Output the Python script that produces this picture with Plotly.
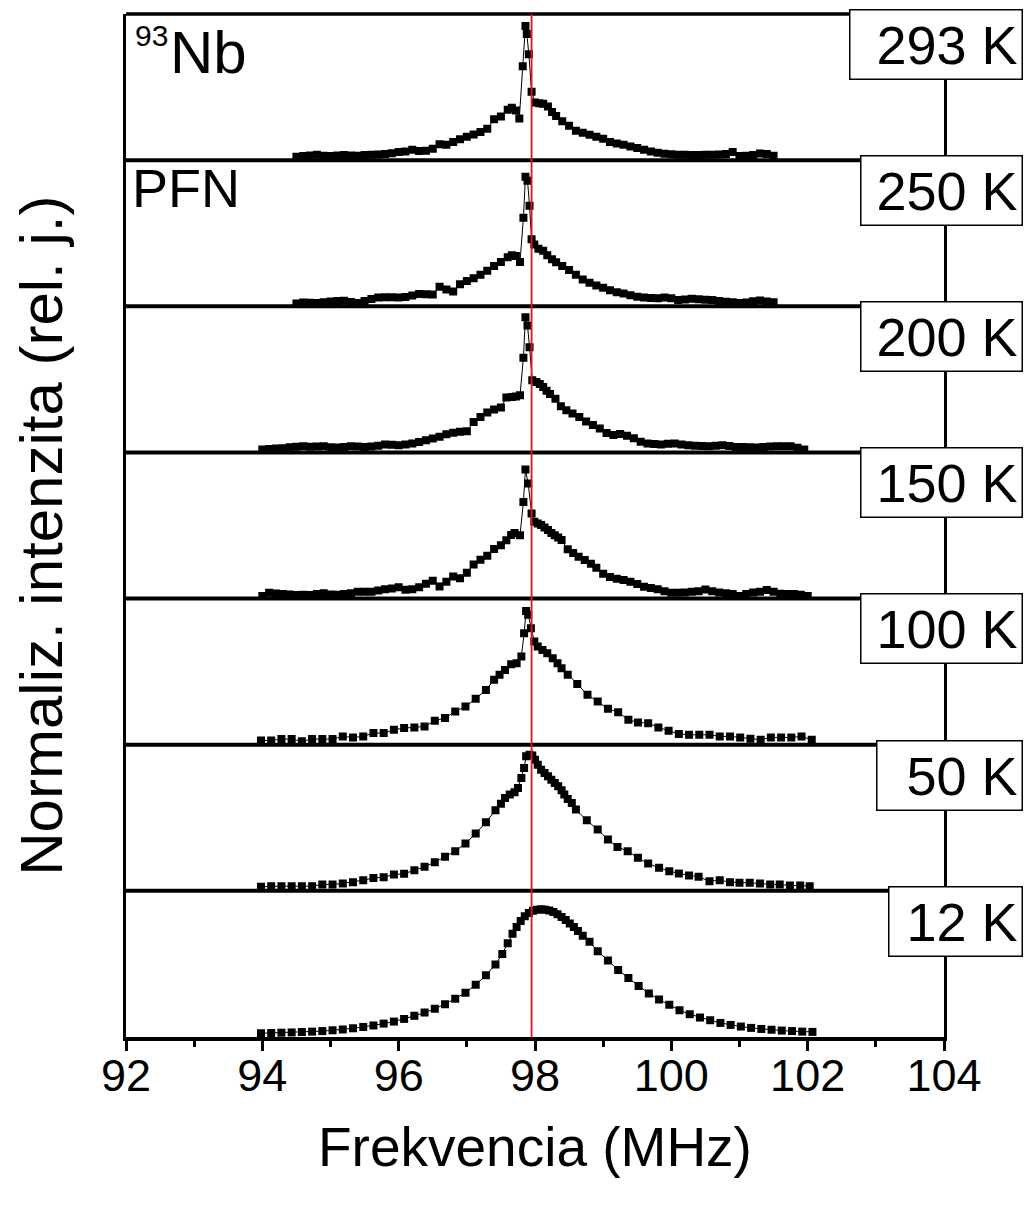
import plotly.graph_objects as go
from plotly.subplots import make_subplots

# 93Nb NMR spectra of PFN, normalized intensity vs. frequency (MHz)
TEMPS = ["293 K", "250 K", "200 K", "150 K", "100 K", "50 K", "12 K"]

F_293 = [94.50, 94.60, 94.70, 94.80, 94.90, 95.00, 95.10, 95.20, 95.30, 95.40, 95.50, 95.60,
         95.70, 95.80, 95.90, 96.00, 96.10, 96.20, 96.30, 96.40, 96.50, 96.60, 96.70, 96.80,
         96.90, 97.00, 97.10, 97.20, 97.30, 97.40, 97.50, 97.60,
         97.66, 97.72, 97.77, 97.82, 97.86, 97.88, 97.91, 97.95, 98.00,
         98.06, 98.12, 98.19, 98.25, 98.31, 98.40,
         98.50, 98.60, 98.70, 98.80, 98.90, 99.00, 99.10, 99.20, 99.30, 99.40, 99.50, 99.60,
         99.70, 99.80, 99.90, 100.00, 100.10, 100.20, 100.30, 100.40, 100.50, 100.60, 100.70,
         100.80, 100.90, 101.00, 101.10, 101.20, 101.30, 101.40, 101.50]
I_293 = [0.005, 0.01, 0.015, 0.02, 0.012, 0.01, 0.015, 0.018, 0.015, 0.012, 0.018, 0.02,
         0.022, 0.025, 0.032, 0.04, 0.045, 0.057, 0.048, 0.05, 0.065, 0.098, 0.095, 0.115,
         0.135, 0.155, 0.172, 0.19, 0.215, 0.285, 0.305, 0.355,
         0.37, 0.35, 0.29, 0.68, 0.98, 0.92, 0.77, 0.49, 0.41,
         0.405, 0.40, 0.38, 0.34, 0.31, 0.27,
         0.236, 0.20, 0.185, 0.17, 0.155, 0.14, 0.115, 0.105, 0.095, 0.082, 0.07, 0.058,
         0.045, 0.035, 0.028, 0.024, 0.02, 0.02, 0.018, 0.018, 0.02, 0.02, 0.022,
         0.025, 0.04, 0.01, 0.012, 0.018, 0.03, 0.025, 0.012]

F_250 = [94.50, 94.60, 94.70, 94.80, 94.90, 95.00, 95.10, 95.20, 95.30, 95.40, 95.50, 95.60,
         95.70, 95.80, 95.90, 96.00, 96.10, 96.20, 96.30, 96.40, 96.50, 96.60, 96.70, 96.80,
         96.90, 97.00, 97.10, 97.20, 97.30, 97.40, 97.50, 97.60,
         97.66, 97.72, 97.78, 97.83, 97.86, 97.89, 97.92, 97.95, 97.99,
         98.05, 98.12, 98.18, 98.25, 98.31, 98.40,
         98.50, 98.60, 98.70, 98.80, 98.90, 99.00, 99.10, 99.20, 99.30, 99.40, 99.50, 99.60,
         99.70, 99.80, 99.90, 100.00, 100.10, 100.20, 100.30, 100.40, 100.50, 100.60, 100.70,
         100.80, 100.90, 101.00, 101.10, 101.20, 101.30, 101.40, 101.50]
I_250 = [0.0, 0.008, 0.006, 0.004, 0.01, 0.016, 0.02, 0.022, 0.012, 0.005, 0.02, 0.035,
         0.045, 0.048, 0.048, 0.046, 0.05, 0.06, 0.072, 0.07, 0.068, 0.125, 0.105, 0.09,
         0.145, 0.168, 0.19, 0.215, 0.245, 0.28, 0.31, 0.345,
         0.36, 0.355, 0.31, 0.64, 0.946, 0.916, 0.73, 0.48, 0.44,
         0.41, 0.395, 0.36, 0.33, 0.308, 0.28,
         0.25, 0.215, 0.18, 0.155, 0.135, 0.118, 0.1, 0.085, 0.075, 0.062, 0.052, 0.046,
         0.042, 0.04, 0.046, 0.04, 0.026, 0.03, 0.036, 0.032, 0.028, 0.026, 0.02,
         0.014, 0.01, 0.004, 0.008, 0.018, 0.023, 0.016, 0.01]

F_200 = [94.00, 94.10, 94.20, 94.30, 94.40, 94.50, 94.60, 94.70, 94.80, 94.90, 95.00, 95.10,
         95.20, 95.30, 95.40, 95.50, 95.60, 95.70, 95.80, 95.90, 96.00, 96.10, 96.20, 96.30,
         96.40, 96.50, 96.60, 96.70, 96.80, 96.90, 97.00, 97.10, 97.20, 97.30, 97.40, 97.50,
         97.58, 97.66, 97.72, 97.78, 97.83, 97.86, 97.89, 97.92, 97.96, 98.02, 98.07, 98.12,
         98.17, 98.22, 98.30, 98.38, 98.46,
         98.55, 98.65, 98.75, 98.85, 98.95, 99.05, 99.15, 99.25, 99.35, 99.45, 99.55, 99.65,
         99.75, 99.85, 99.95, 100.05, 100.15, 100.25, 100.35, 100.45, 100.55, 100.65, 100.75,
         100.85, 100.95, 101.05, 101.15, 101.25, 101.35, 101.45, 101.55, 101.65, 101.75,
         101.85, 101.95]
I_200 = [0.002, 0.005, 0.009, 0.012, 0.018, 0.022, 0.026, 0.022, 0.024, 0.026, 0.018, 0.016,
         0.02, 0.026, 0.024, 0.021, 0.025, 0.03, 0.04, 0.037, 0.034, 0.04, 0.046, 0.058,
         0.07, 0.084, 0.097, 0.115, 0.127, 0.134, 0.138, 0.207, 0.244, 0.278, 0.3, 0.315,
         0.389, 0.393, 0.398, 0.406, 0.687, 0.989, 0.927, 0.765, 0.518, 0.505, 0.49, 0.468,
         0.44, 0.415, 0.381, 0.325, 0.295,
         0.27, 0.244, 0.21, 0.185, 0.158, 0.125, 0.11, 0.118, 0.105, 0.085, 0.06, 0.046,
         0.042, 0.04, 0.044, 0.046, 0.04, 0.034, 0.03, 0.028, 0.026, 0.03, 0.034,
         0.028, 0.021, 0.02, 0.018, 0.016, 0.02, 0.024, 0.026, 0.026, 0.026,
         0.015, 0.002]

F_150 = [94.00, 94.10, 94.20, 94.30, 94.40, 94.50, 94.60, 94.70, 94.80, 94.90, 95.00, 95.10,
         95.20, 95.30, 95.40, 95.50, 95.60, 95.70, 95.80, 95.90, 96.00, 96.10, 96.20, 96.30,
         96.40, 96.50, 96.60, 96.70, 96.80, 96.90, 97.00, 97.10, 97.20, 97.30, 97.40, 97.50,
         97.58, 97.65, 97.70, 97.78, 97.83, 97.86, 97.90, 97.95, 97.99, 98.04, 98.09, 98.14,
         98.19, 98.24, 98.29, 98.34, 98.39, 98.48, 98.56, 98.64, 98.73, 98.82, 98.90,
         99.00, 99.10, 99.20, 99.30, 99.40, 99.50, 99.60, 99.70, 99.80, 99.90, 100.00,
         100.10, 100.20, 100.30, 100.40, 100.50, 100.60, 100.70, 100.80, 100.90, 101.00,
         101.10, 101.20, 101.30, 101.40, 101.50, 101.60, 101.70, 101.80, 101.90, 102.00]
I_150 = [0.0, 0.024, 0.018, 0.014, 0.01, 0.007, 0.008, 0.007, 0.014, 0.019, 0.01, 0.008,
         0.014, 0.019, 0.03, 0.03, 0.031, 0.04, 0.049, 0.056, 0.064, 0.045, 0.05, 0.064,
         0.09, 0.113, 0.07, 0.105, 0.145, 0.131, 0.173, 0.235, 0.27, 0.3, 0.35, 0.378,
         0.415, 0.455, 0.47, 0.453, 0.701, 0.943, 0.838, 0.615, 0.553, 0.54, 0.528, 0.51,
         0.491, 0.47, 0.453, 0.435, 0.416, 0.347, 0.32, 0.292, 0.267, 0.24, 0.21,
         0.165, 0.14, 0.128, 0.118, 0.105, 0.088, 0.069, 0.058, 0.049, 0.035, 0.024,
         0.024, 0.026, 0.03, 0.034, 0.048, 0.035, 0.026, 0.02, 0.015, 0.0,
         0.015, 0.026, 0.03, 0.044, 0.03, 0.016, 0.014, 0.014, 0.008, 0.0]

F_100 = [93.98, 94.13, 94.28, 94.43, 94.58, 94.73, 94.88, 95.03, 95.18, 95.33, 95.48, 95.63,
         95.78, 95.93, 96.08, 96.23, 96.38, 96.53, 96.68, 96.83, 96.98, 97.13, 97.28, 97.40,
         97.48, 97.56, 97.65, 97.73, 97.80, 97.84, 97.87, 97.90, 97.94, 97.99, 98.04, 98.11,
         98.18, 98.26, 98.33, 98.39, 98.48, 98.62, 98.77, 98.92, 99.07, 99.22, 99.37, 99.51,
         99.66, 99.81, 99.96, 100.11, 100.26, 100.41, 100.56, 100.71, 100.86, 101.01, 101.16,
         101.31, 101.46, 101.61, 101.76, 101.91, 102.06]
I_100 = [0.012, 0.012, 0.022, 0.022, 0.005, 0.022, 0.022, 0.022, 0.042, 0.034, 0.042, 0.067,
         0.067, 0.092, 0.104, 0.109, 0.116, 0.159, 0.179, 0.228, 0.265, 0.322, 0.389, 0.464,
         0.501, 0.538, 0.581, 0.588, 0.637, 0.812, 0.978, 0.95, 0.849, 0.749, 0.712, 0.687,
         0.663, 0.625, 0.588, 0.551, 0.501, 0.432, 0.352, 0.302, 0.248, 0.223, 0.166, 0.146,
         0.141, 0.109, 0.084, 0.06, 0.054, 0.054, 0.054, 0.042, 0.042, 0.034, 0.025,
         0.017, 0.034, 0.034, 0.034, 0.042, 0.017]

F_50 = [93.98, 94.13, 94.28, 94.43, 94.58, 94.73, 94.88, 95.03, 95.18, 95.33, 95.48, 95.63,
        95.78, 95.93, 96.08, 96.23, 96.38, 96.53, 96.68, 96.83, 96.98, 97.13, 97.28, 97.42,
        97.50, 97.56, 97.63, 97.70, 97.75, 97.80, 97.84, 97.87, 97.92, 97.96, 98.00, 98.04,
        98.09, 98.14, 98.19, 98.24, 98.29, 98.34, 98.39, 98.43, 98.48, 98.54, 98.60, 98.76,
        98.92, 99.07, 99.21, 99.36, 99.51, 99.66, 99.82, 99.97, 100.11, 100.26, 100.40,
        100.56, 100.71, 100.86, 101.00, 101.15, 101.30, 101.45, 101.59, 101.74, 101.89, 102.03]
I_50 = [0.011, 0.015, 0.015, 0.015, 0.015, 0.015, 0.028, 0.028, 0.035, 0.045, 0.06, 0.075,
        0.082, 0.102, 0.107, 0.134, 0.159, 0.194, 0.234, 0.276, 0.333, 0.407, 0.491, 0.581,
        0.63, 0.673, 0.698, 0.715, 0.748, 0.822, 0.897, 0.983, 0.996, 0.99, 0.958, 0.921,
        0.884, 0.859, 0.834, 0.809, 0.785, 0.76, 0.73, 0.698, 0.666, 0.636, 0.586, 0.506,
        0.437, 0.363, 0.308, 0.276, 0.226, 0.184, 0.152, 0.127, 0.11, 0.095, 0.085,
        0.052, 0.06, 0.045, 0.04, 0.04, 0.035, 0.028, 0.028, 0.02, 0.02, 0.015]

F_12 = [93.98, 94.13, 94.28, 94.43, 94.58, 94.73, 94.88, 95.03, 95.18, 95.33, 95.48, 95.63,
        95.78, 95.93, 96.08, 96.23, 96.38, 96.53, 96.68, 96.83, 96.98, 97.13, 97.28, 97.42,
        97.52, 97.60, 97.67, 97.73, 97.79, 97.85, 97.91, 97.97, 98.03, 98.09, 98.15, 98.21,
        98.27, 98.33, 98.39, 98.45, 98.51, 98.57, 98.63, 98.70, 98.80, 98.92, 99.07, 99.22,
        99.37, 99.52, 99.67, 99.82, 99.97, 100.12, 100.27, 100.42, 100.57, 100.72, 100.87,
        101.02, 101.17, 101.32, 101.47, 101.62, 101.77, 101.92, 102.07]
I_12 = [0.008, 0.01, 0.012, 0.014, 0.017, 0.02, 0.024, 0.03, 0.036, 0.045, 0.055, 0.066,
        0.08, 0.095, 0.115, 0.138, 0.162, 0.19, 0.225, 0.265, 0.31, 0.37, 0.44, 0.52,
        0.6, 0.68, 0.75, 0.8, 0.845, 0.88, 0.905, 0.922, 0.93, 0.932, 0.93, 0.924,
        0.912, 0.895, 0.875, 0.852, 0.826, 0.8, 0.77, 0.735, 0.69, 0.62, 0.55, 0.48,
        0.42, 0.36, 0.305, 0.26, 0.22, 0.18, 0.15, 0.125, 0.105, 0.085, 0.07,
        0.058, 0.048, 0.04, 0.034, 0.028, 0.024, 0.02, 0.018]

SPECTRA = [(F_293, I_293), (F_250, I_250), (F_200, I_200), (F_150, I_150),
           (F_100, I_100), (F_50, I_50), (F_12, I_12)]
REF_FREQ = 97.95
X_TICKS = [92, 94, 96, 98, 100, 102, 104]

FONT = "Liberation Sans, Arial, sans-serif"
N = len(SPECTRA)

for fx, iy in SPECTRA:
    assert len(fx) == len(iy)

fig = make_subplots(rows=N, cols=1, shared_xaxes=True, vertical_spacing=0)

for k, (fx, iy) in enumerate(SPECTRA):
    fig.add_trace(
        go.Scatter(
            x=fx, y=iy, mode="lines+markers",
            line=dict(color="black", width=1),
            marker=dict(symbol="square", size=8, color="black"),
            showlegend=False, hoverinfo="skip",
        ),
        row=k + 1, col=1,
    )
    bottom = (k == N - 1)
    fig.update_yaxes(
        range=[-0.02, 1.07], showticklabels=False, ticks="", showgrid=False,
        zeroline=False, showline=True, linecolor="black", linewidth=3, mirror=True,
        row=k + 1, col=1,
    )
    # only the bottom panel carries the axis line, ticks and labels; the top edge and
    # the boundaries between panels are drawn as single lines further below
    fig.update_xaxes(
        range=[92, 104], showgrid=False, zeroline=False,
        showline=bottom, linecolor="black", linewidth=3.5, mirror=False,
        tickmode="array", tickvals=X_TICKS, ticktext=[str(t) for t in X_TICKS],
        ticks="outside" if bottom else "", ticklen=10, tickwidth=2.5, tickcolor="black",
        showticklabels=bottom, ticklabelstandoff=-14,
        tickfont=dict(family=FONT, size=45, color="black"),
        minor=dict(dtick=1, tick0=92, ticks="outside" if bottom else "", ticklen=6,
                   tickwidth=2.5, tickcolor="black"),
        row=k + 1, col=1,
    )

# top frame edge and panel separators
for k in range(N):
    yb = 1 - k / N
    fig.add_shape(type="line", xref="paper", yref="paper", x0=0, x1=1, y0=yb, y1=yb,
                  line=dict(color="black", width=4 if k else 3.5), layer="above")

# reference frequency marker across all panels
fig.add_shape(type="line", xref="x", yref="paper", x0=REF_FREQ, x1=REF_FREQ,
              y0=0, y1=1, line=dict(color="#e3141b", width=1.8), layer="above")

# temperature labels in boxes at the right edge of each panel
box_widths = [163, 152, 152, 152, 152, 136, 124]
for k, t in enumerate(TEMPS):
    fig.add_annotation(
        xref="paper", yref="paper", x=1.097, y=1 - k / N + 0.005,
        xanchor="right", yanchor="top", text=t, showarrow=False,
        font=dict(family=FONT, size=54, color="black"),
        bgcolor="white", bordercolor="black", borderwidth=1.5, borderpad=4,
        width=box_widths[k], align="right",
    )

fig.add_annotation(xref="paper", yref="paper", x=0.0086, y=0.9785, xanchor="left",
                   yanchor="middle", text="93", showarrow=False,
                   font=dict(family=FONT, size=30, color="black"))
fig.add_annotation(xref="paper", yref="paper", x=0.0513, y=0.962, xanchor="left",
                   yanchor="middle", text="Nb", showarrow=False,
                   font=dict(family=FONT, size=60, color="black"))
fig.add_annotation(xref="paper", yref="paper", x=0.0045, y=0.83, xanchor="left",
                   yanchor="middle", text="PFN", showarrow=False,
                   font=dict(family=FONT, size=54, color="black"))

# axis titles
fig.add_annotation(xref="paper", yref="paper", x=-0.1027, y=0.49, xanchor="center",
                   yanchor="middle", text="Normaliz. intenzita (rel. j.)", textangle=-90,
                   showarrow=False, font=dict(family=FONT, size=60, color="black"))
fig.add_annotation(xref="paper", yref="paper", x=0.5, y=-0.1073, xanchor="center",
                   yanchor="middle", text="Frekvencia (MHz)", showarrow=False,
                   font=dict(family=FONT, size=55, color="black"))

fig.update_layout(
    width=1031, height=1210,
    margin=dict(l=126, r=87, t=14, b=173),
    paper_bgcolor="white", plot_bgcolor="white",
    font=dict(family=FONT, color="black"),
)

fig.write_html("out.html")
